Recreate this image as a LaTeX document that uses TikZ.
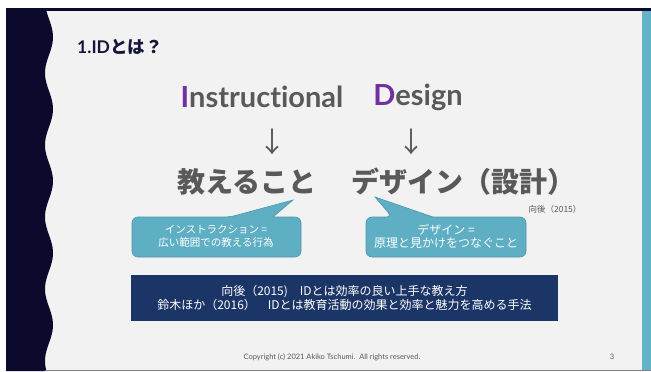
\documentclass[tikz,border=0pt]{standalone}
\usepackage{fontspec}
\newfontfamily\jp{Noto Sans CJK JP}
\newfontfamily\lat[Ligatures=NoCommon]{Lato}
\definecolor{slidebg}{HTML}{F2F2F2}
\definecolor{darkband}{HTML}{0B0A2C}
\definecolor{teal}{HTML}{63B3C6}
\definecolor{callfill}{HTML}{5FAFC4}
\definecolor{callline}{HTML}{4A98AC}
\definecolor{navytxt}{HTML}{16163A}
\definecolor{greytxt}{HTML}{595959}
\definecolor{purp}{HTML}{7030A0}
\definecolor{navybox}{HTML}{1C3567}
\tikzset{
  callbox/.style={fill=callfill, draw=callline, line width=0.6pt},
  calltext/.style={text=white, align=center, inner sep=0pt},
  bigjp/.style={font=\jp\bfseries\fontsize{28}{28}\selectfont, text=greytxt, inner sep=0pt},
  biglat/.style={font=\lat\bfseries\fontsize{29}{29}\selectfont, text=greytxt, inner sep=0pt},
  downarrow/.style={font=\jp\fontsize{28}{28}\selectfont, text=greytxt, inner sep=0pt},
  defbox/.style={fill=navybox, text=white, align=center, minimum width=427pt, minimum height=46pt, inner sep=0pt, font=\jp\fontsize{12}{14}\selectfont},
  foot/.style={font=\lat\fontsize{7.5}{7.5}\selectfont, text=greytxt, inner sep=0pt}
}
\begin{document}
\begin{tikzpicture}[x=1pt,y=-1pt]
\path[use as bounding box] (0,0) rectangle (651,372);
\fill[white] (0,0) rectangle (651,372);
\fill[slidebg] (6,8) rectangle (651,371);
\fill[darkband] (6,8) rectangle (651,10.5);
\fill[darkband] (6,10) -- plot[domain=10:371, samples=150] ({49+4*sin((\x-19)*5)}, \x) -- (6,371) -- cycle;
\fill[teal] (642,10.5) rectangle (651,370);
\draw[gray, line width=0.8pt] (45,370.5) -- (651,370.5);

\node[font=\lat\bfseries\fontsize{17.5}{17.5}\selectfont, text=navytxt, anchor=west, inner sep=0pt] (title) at (77,47) {1.ID{\jp\bfseries とは？}};

\node[biglat] (instr) at (262,97) {{\color{purp}I}nstructional};
\node[biglat] (design) at (418,97) {{\color{purp}D}esign};
\node[downarrow] (arr1) at (272,142) {↓};
\node[downarrow] (arr2) at (411,142) {↓};
\node[bigjp] (oshieru) at (247,182) {教えること};
\node[bigjp] (dezain) at (463,182) {デザイン（設計）};
\node[font=\jp\fontsize{8.5}{8.5}\selectfont, text=greytxt, inner sep=0pt] (ref) at (555,209) {向後（2015）};

\path[callbox] (132,237) [rounded corners=6pt] -- (132,217) -- (230,217) [sharp corners] -- (293,200) -- (273,217) [rounded corners=6pt] -- (301,217) -- (301,257) -- (132,257) -- cycle;
\path[callbox] (366,237) [rounded corners=6pt] -- (366,217) -- (392,217) [sharp corners] -- (375,197) -- (433,217) [rounded corners=6pt] -- (526,217) -- (526,257) -- (366,257) -- cycle;
\node[calltext, font=\jp\fontsize{10.5}{13}\selectfont] (c1) at (216,236) {インストラクション =\\広い範囲での教える行為};
\node[calltext, font=\jp\fontsize{12}{13}\selectfont] (c2) at (446,236) {デザイン =\\原理と見かけをつなぐこと};

\node[defbox] (defs) at (344.5,298) {向後（2015)\quad IDとは効率の良い上手な教え方\\鈴木ほか（2016）\quad IDとは教育活動の効果と効率と魅力を高める手法};

\node[foot] (copy) at (332,357) {Copyright (c) 2021 Akiko Tschumi.\ \ All rights reserved.};
\node[foot] (page) at (612,357) {3};
\end{tikzpicture}
\end{document}
